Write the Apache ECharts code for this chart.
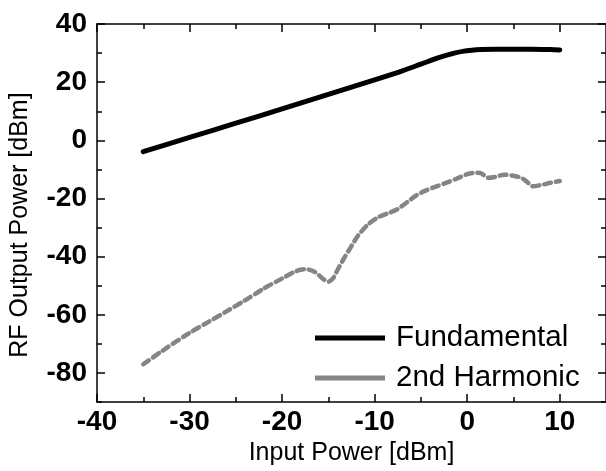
<!DOCTYPE html>
<html>
<head>
<meta charset="utf-8">
<script src="https://cdn.jsdelivr.net/npm/echarts@6/dist/echarts.min.js"></script>
<style>
  html, body { margin: 0; padding: 0; background: #fff; }
  #chart { width: 606px; height: 471px; }
</style>
</head>
<body>
<div id="chart"></div>
<script>
// Output power of the amplifier vs. input power (dBm)
const fundamentalIn  = [-35, -30, -25, -20, -15, -10, -7, -5, -3, -1.5, -0.5, 0.5, 1.5, 3, 5, 7, 9, 10];
const fundamentalOut = [-3.9, 1.0, 5.9, 10.8, 15.8, 20.8, 23.9, 26.2, 28.5, 29.9, 30.6, 31.0, 31.2, 31.3, 31.3, 31.3, 31.2, 31.1];

const harmonicIn  = [-35, -33, -30, -28, -26, -24, -22, -20, -18.5, -17.5, -16.5, -15.5, -15, -14.5, -14, -13.3, -12.6, -11.8,
                     -10.7, -9.6, -8.5, -7.6, -6.5, -5.5, -4.5, -3.3, -2, -1, 0, 1, 1.5, 2.3, 3, 4, 5, 5.8, 6.4, 7.1, 8.2, 9, 10];
const harmonicOut = [-77, -72.5, -66.2, -62.5, -58.8, -55, -51, -47.5, -45, -44.3, -45.2, -47.8, -48.6, -47.5, -44.5, -40.5, -36.9, -32.8,
                     -28.9, -26.4, -25, -23.8, -21.3, -18.9, -17.3, -15.8, -14.3, -13, -11.6, -11.1, -11.3, -12.9, -12.6, -11.8, -12.2, -12.8, -14.1, -15.8, -15.2, -14.6, -14.0];

const xMajorTicks = [-40, -30, -20, -10, 0, 10];
const xMinorTicks = [-35, -25, -15, -5, 5];
const yMajorTicks = [-80, -60, -40, -20, 0, 20, 40];
const yMinorTicks = [-90, -70, -50, -30, -10, 10, 30];

const seriesNames = ['Fundamental', '2nd Harmonic'];
const xTitle = 'Input Power [dBm]';
const yTitle = 'RF Output Power [dBm]';

const pair = (xs, ys) => xs.map((x, i) => [x, ys[i]]);

const FONT = 'Liberation Sans, Arial, sans-serif';
const axisLine = { show: true, onZero: false, lineStyle: { color: '#000', width: 1.5 } };
const noLine = { show: false, onZero: false };
const tickStyle = { color: '#000', width: 1.5 };
const labelFont = { color: '#000', fontFamily: FONT, fontWeight: 'bold', fontSize: 28 };

function xAx(pos, values, len, withLabels, withLine) {
  return {
    type: 'value', position: pos, min: -40, max: 15, interval: 5,
    axisLine: withLine ? axisLine : noLine,
    axisTick: { show: true, inside: true, length: len, customValues: values, lineStyle: tickStyle },
    axisLabel: withLabels ? Object.assign({ show: true, margin: 6, customValues: values }, labelFont) : { show: false },
    splitLine: { show: false }
  };
}
function yAx(pos, values, len, withLabels, withLine) {
  return {
    type: 'value', position: pos, min: -90, max: 40, interval: 10,
    axisLine: withLine ? axisLine : noLine,
    axisTick: { show: true, inside: true, length: len, customValues: values, lineStyle: tickStyle },
    axisLabel: withLabels ? Object.assign({ show: true, margin: 10, customValues: values }, labelFont) : { show: false },
    splitLine: { show: false }
  };
}

const xAxes = [
  xAx('bottom', xMajorTicks, 8, true, true),
  xAx('bottom', xMinorTicks, 5, false, false),
  xAx('top', xMajorTicks, 8, false, true),
  xAx('top', xMinorTicks, 5, false, false)
];
Object.assign(xAxes[0], {
  name: xTitle, nameLocation: 'middle', nameGap: 34,
  nameTextStyle: { color: '#000', fontFamily: FONT, fontSize: 25 }
});

const yAxes = [
  yAx('left', yMajorTicks, 8, true, true),
  yAx('left', yMinorTicks, 5, false, false),
  yAx('right', yMajorTicks, 8, false, true),
  yAx('right', yMinorTicks, 5, false, false)
];
Object.assign(yAxes[0], {
  name: yTitle, nameLocation: 'middle', nameGap: 64, nameRotate: 90,
  nameTextStyle: { color: '#000', fontFamily: FONT, fontSize: 25, padding: [0, 24, 0, 0] }
});

const chart = echarts.init(document.getElementById('chart'), null, { renderer: 'canvas' });
chart.setOption({
  animation: false,
  backgroundColor: '#fff',
  grid: { left: 96, top: 24, right: -1, bottom: 68, containLabel: false },
  xAxis: xAxes,
  yAxis: yAxes,
  legend: {
    orient: 'vertical', left: 310, top: 318,
    itemWidth: 70, itemHeight: 5, itemGap: 10,
    icon: 'rect',
    textStyle: { color: '#000', fontFamily: FONT, fontSize: 29.5, padding: [0, 0, 0, 6] },
    data: [
      { name: seriesNames[0], itemStyle: { color: '#000' } },
      { name: seriesNames[1], itemStyle: { color: '#858585' } }
    ]
  },
  series: [
    {
      name: seriesNames[0], type: 'line', xAxisIndex: 0, yAxisIndex: 0,
      data: pair(fundamentalIn, fundamentalOut), smooth: 0.3, showSymbol: false,
      lineStyle: { color: '#000', width: 5, cap: 'round', join: 'round' },
      itemStyle: { color: '#000' }
    },
    {
      name: seriesNames[1], type: 'line', xAxisIndex: 0, yAxisIndex: 0,
      data: pair(harmonicIn, harmonicOut), smooth: 0.3, showSymbol: false,
      lineStyle: { color: '#858585', width: 4.5, type: [7, 5], cap: 'round', join: 'round' },
      itemStyle: { color: '#858585' }
    }
  ]
});
</script>
</body>
</html>
